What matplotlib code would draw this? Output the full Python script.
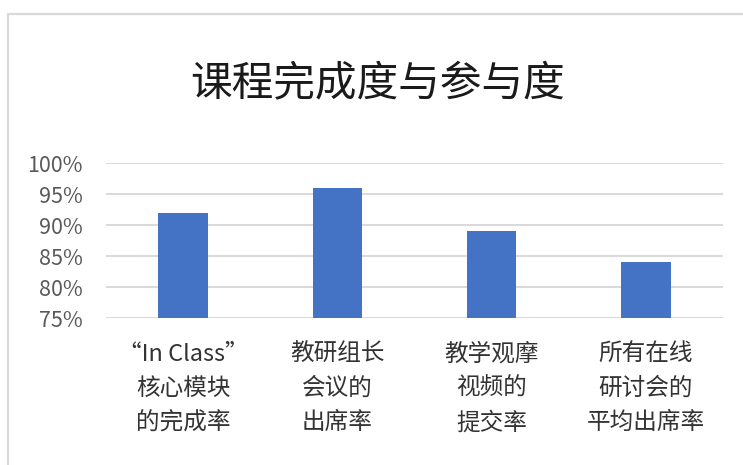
import matplotlib
matplotlib.use("Agg")
import matplotlib.pyplot as plt
import matplotlib.patches as mpatches
from matplotlib.ticker import FuncFormatter

plt.rcParams["font.family"] = ["Noto Sans CJK SC", "DejaVu Sans"]

W_PX, H_PX, DPI = 743, 465, 100

TITLE = "课程完成度与参与度"
CATEGORIES = [
    "\u201cIn Class\u201d\n核心模块\n的完成率",
    "教研组长\n会议的\n出席率",
    "教学观摩\n视频的\n提交率",
    "所有在线\n研讨会的\n平均出席率",
]
VALUES = [0.92, 0.96, 0.89, 0.84]
Y_TICKS = [0.75, 0.80, 0.85, 0.90, 0.95, 1.00]

BAR_COLOR = "#4472C4"
GRID_COLOR = "#D9D9D9"

fig = plt.figure(figsize=(W_PX / DPI, H_PX / DPI), dpi=DPI)
fig.patch.set_facecolor("white")

# outer chart border (only left/top edges are visible in the crop)
fig.patches.append(mpatches.Rectangle(
    (8 / W_PX, -0.1), 1.2, 1 - 14 / H_PX + 0.1,
    transform=fig.transFigure, fill=False,
    edgecolor="#D9D9D9", linewidth=1.6, zorder=0))

# plot area in pixel coords
left, right, top, bottom = 106, 723, 163, 318
ax = fig.add_axes([left / W_PX, 1 - bottom / H_PX,
                   (right - left) / W_PX, (bottom - top) / H_PX])

x = range(len(CATEGORIES))
ax.bar(x, VALUES, width=0.32, color=BAR_COLOR, zorder=3)
ax.set_ylim(0.75, 1.0)
ax.set_xlim(-0.5, len(CATEGORIES) - 0.5)

ax.set_yticks(Y_TICKS)
ax.yaxis.set_major_formatter(FuncFormatter(lambda v, _: f"{v * 100:.0f}%"))
ax.grid(axis="y", color=GRID_COLOR, linewidth=1.4, zorder=0)
ax.set_axisbelow(True)

ax.set_xticks(list(x))
ax.set_xticklabels(CATEGORIES, fontsize=17, color="#333333",
                   linespacing=1.62, ha="center", multialignment="center")

ax.tick_params(axis="y", length=0, pad=17, labelsize=15.5, labelcolor="#595959")
ax.tick_params(axis="x", length=0, pad=18)

for s in ax.spines.values():
    s.set_visible(False)

fig.text(0.5 * (190 + 565) / W_PX, 1 - 85 / H_PX, TITLE,
         fontsize=30, color="#1A1A1A", ha="center", va="center")

fig.savefig("out.png", dpi=DPI)
